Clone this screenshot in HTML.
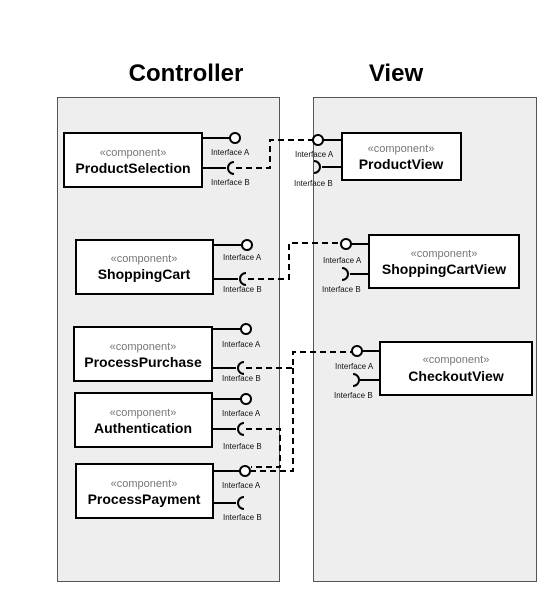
<!DOCTYPE html>
<html><head><meta charset="utf-8"><style>
html,body{margin:0;padding:0;background:#fff;}
svg{display:block;font-family:"Liberation Sans",sans-serif;}
.b{font-weight:bold;font-size:14px;fill:#000;text-anchor:middle}
.s{font-size:11px;fill:#777;text-anchor:middle}
.l{font-size:8px;fill:#111}
</style></head><body>
<svg width="544" height="603" viewBox="0 0 544 603">
<text x="186" y="81" font-size="24" font-weight="bold" text-anchor="middle">Controller</text>
<text x="396" y="81" font-size="24" font-weight="bold" text-anchor="middle">View</text>
<rect x="57.5" y="97.5" width="222" height="484" fill="#eee" stroke="#555" stroke-width="1"/>
<rect x="313.5" y="97.5" width="223" height="484" fill="#eee" stroke="#555" stroke-width="1"/>

<g stroke="#000" stroke-width="2" fill="#fff">
<!-- ProductSelection -->
<rect x="64" y="133" width="138" height="54"/>
<line x1="202" y1="138" x2="230" y2="138"/><circle cx="235" cy="138" r="5"/>
<line x1="202" y1="168" x2="226" y2="168"/><path d="M234 162 A6 6 0 0 0 234 174" fill="none"/>
<!-- ShoppingCart -->
<rect x="76" y="240" width="137" height="54"/>
<line x1="213" y1="245" x2="242" y2="245"/><circle cx="247" cy="245" r="5"/>
<line x1="213" y1="279" x2="238" y2="279"/><path d="M246 273 A6 6 0 0 0 246 285" fill="none"/>
<!-- ProcessPurchase -->
<rect x="74" y="327" width="138" height="54"/>
<line x1="212" y1="329" x2="241" y2="329"/><circle cx="246" cy="329" r="5"/>
<line x1="212" y1="368" x2="236" y2="368"/><path d="M244 362 A6 6 0 0 0 244 374" fill="none"/>
<!-- Authentication -->
<rect x="75" y="393" width="137" height="54"/>
<line x1="212" y1="399" x2="241" y2="399"/><circle cx="246" cy="399" r="5"/>
<line x1="212" y1="429" x2="236" y2="429"/><path d="M244 423 A6 6 0 0 0 244 435" fill="none"/>
<!-- ProcessPayment -->
<rect x="76" y="464" width="137" height="54"/>
<line x1="213" y1="471" x2="240" y2="471"/><circle cx="245" cy="471" r="5"/>
<line x1="213" y1="503" x2="236" y2="503"/><path d="M244 497 A6 6 0 0 0 244 509" fill="none"/>
<!-- ProductView -->
<rect x="342" y="133" width="119" height="47"/>
<line x1="323" y1="140" x2="342" y2="140"/><circle cx="318" cy="140" r="5"/>
<line x1="322" y1="167" x2="342" y2="167"/><path d="M314 161 A6 6 0 0 1 314 173" fill="none"/>
<!-- ShoppingCartView -->
<rect x="369" y="235" width="150" height="53"/>
<line x1="351" y1="244" x2="369" y2="244"/><circle cx="346" cy="244" r="5"/>
<line x1="350" y1="274" x2="369" y2="274"/><path d="M342 268 A6 6 0 0 1 342 280" fill="none"/>
<!-- CheckoutView -->
<rect x="380" y="342" width="152" height="53"/>
<line x1="362" y1="351" x2="380" y2="351"/><circle cx="357" cy="351" r="5"/>
<line x1="360" y1="380" x2="380" y2="380"/><path d="M353 374 A6 6 0 0 1 353 386" fill="none"/>
</g>

<g stroke="#000" stroke-width="2" fill="none" stroke-dasharray="6,4">
<polyline points="236,168 270,168 270,140 313,140"/>
<polyline points="248,279 289,279 289,243 341,243"/>
<polyline points="246,368 293,368 293,352 352,352"/>
<polyline points="246,429 280,429 280,467 251,467"/>
<polyline points="293,368 293,471 251,471"/>
</g>

<text x="133" y="156" class="s">«component»</text><text x="133" y="173" class="b">ProductSelection</text>
<text x="144" y="262" class="s">«component»</text><text x="144" y="279" class="b">ShoppingCart</text>
<text x="143" y="350" class="s">«component»</text><text x="143" y="367" class="b">ProcessPurchase</text>
<text x="143" y="416" class="s">«component»</text><text x="143" y="433" class="b">Authentication</text>
<text x="144" y="487" class="s">«component»</text><text x="144" y="504" class="b">ProcessPayment</text>
<text x="401" y="152" class="s">«component»</text><text x="401" y="169" class="b">ProductView</text>
<text x="444" y="257" class="s">«component»</text><text x="444" y="274" class="b">ShoppingCartView</text>
<text x="456" y="363" class="s">«component»</text><text x="456" y="381" class="b">CheckoutView</text>

<g class="l">
<text x="211" y="155">Interface A</text><text x="211" y="185">Interface B</text>
<text x="223" y="260">Interface A</text><text x="223" y="292">Interface B</text>
<text x="222" y="347">Interface A</text><text x="222" y="381">Interface B</text>
<text x="222" y="416">Interface A</text><text x="223" y="449">Interface B</text>
<text x="222" y="488">Interface A</text><text x="223" y="520">Interface B</text>
<text x="295" y="157">Interface A</text><text x="294" y="186">Interface B</text>
<text x="323" y="263">Interface A</text><text x="322" y="292">Interface B</text>
<text x="335" y="369">Interface A</text><text x="334" y="398">Interface B</text>
</g>
</svg>
</body></html>
